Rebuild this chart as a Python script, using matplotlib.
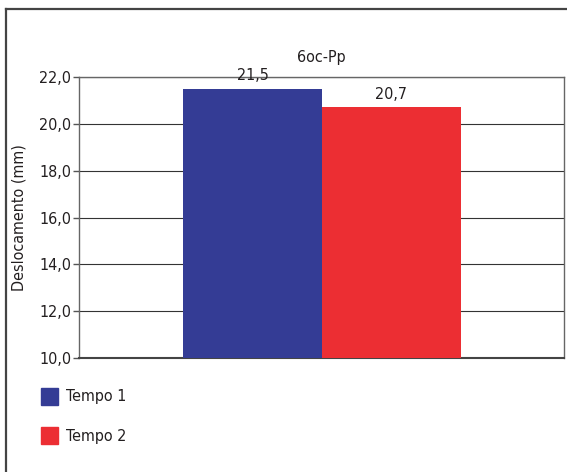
import matplotlib
matplotlib.use("Agg")
import matplotlib.pyplot as plt
from matplotlib.patches import Rectangle
from matplotlib.lines import Line2D

series = ["Tempo 1", "Tempo 2"]
values = [21.5, 20.7]
labels = ["21,5", "20,7"]
colors = ["#343c95", "#ec2e33"]
yticks = [10, 12, 14, 16, 18, 20, 22]
title = "6oc-Pp"
ylabel = "Deslocamento (mm)"

plt.rcParams['font.family'] = ['DejaVu Sans']
plt.rcParams['font.stretch'] = 'condensed'
txt = "#231f20"
fs = 11.5

fig = plt.figure(figsize=(5.67, 4.72), dpi=100)

# outer frame (only top and left visible)
fig.add_artist(Line2D([6/567, 1], [1-9/472, 1-9/472], color="#444444", lw=1.6))
fig.add_artist(Line2D([6/567, 6/567], [0, 1-9/472], color="#444444", lw=1.6))

ax = fig.add_axes([79/567, 1-358/472, 485/567, 281/472])
w = 0.2866
xs = [0.501 - w/2, 0.501 + w/2]
ax.bar(xs, [v - 10 for v in values], bottom=10, width=w, color=colors, zorder=3)
for x, v, l in zip(xs, values, labels):
    ax.text(x, v + 0.25, l, ha="center", va="bottom", fontsize=fs, color=txt)

ax.set_xlim(0, 1)
ax.set_ylim(10, 22)
ax.set_yticks(yticks)
ax.set_yticklabels([f"{t:.1f}".replace(".", ",") for t in yticks], fontsize=fs, color=txt)
ax.set_xticks([])
ax.tick_params(axis="y", length=4, width=1, color="#555555", pad=1.5)
ax.grid(axis="y", color="#333333", lw=0.8, zorder=1)
for s in ax.spines.values():
    s.set_color("#666666")
    s.set_linewidth(1)
ax.spines["bottom"].set_linewidth(1.5)
ax.spines["bottom"].set_color("#444444")
ax.set_ylabel(ylabel, fontsize=fs, color=txt, labelpad=9)
ax.set_title(title, fontsize=fs, color=txt, pad=11)

# legend
for i, (name, c) in enumerate(zip(series, colors)):
    y = 1 - (397 + 39*i)/472
    fig.add_artist(Rectangle((41/567, y - 8/472), 17/567, 17/472, color=c, transform=fig.transFigure))
    fig.text(66/567, y, name, fontsize=fs, color=txt, va="center", ha="left")

fig.savefig("out.png", dpi=100)
